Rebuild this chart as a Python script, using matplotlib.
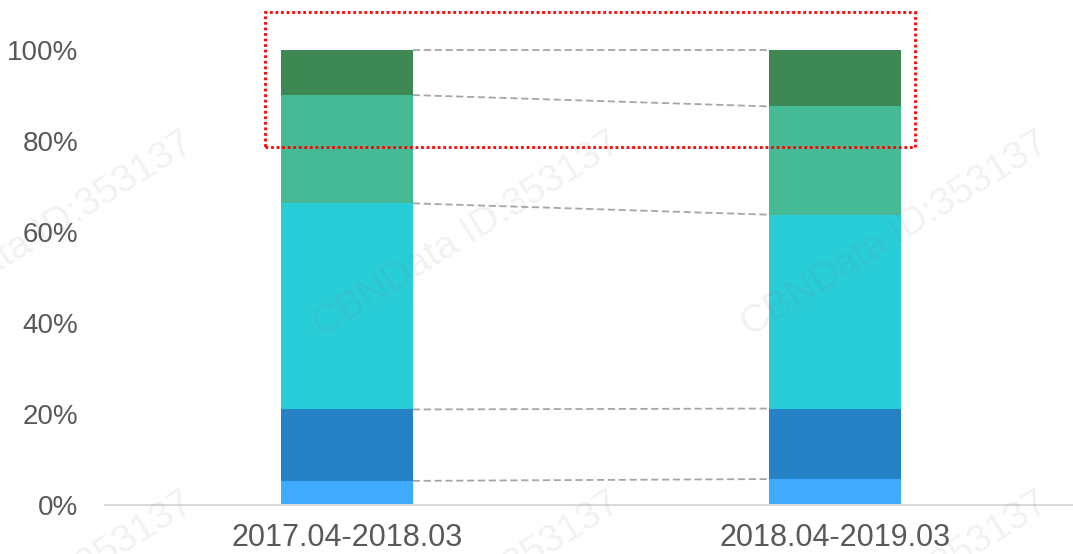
import matplotlib
matplotlib.use("Agg")
import matplotlib.pyplot as plt
from matplotlib.patches import Rectangle
import numpy as np

# share of each segment per period, bottom to top (%)
periods = ["2017.04-2018.03", "2018.04-2019.03"]
seg_a = [5.3, 5.7]
seg_b = [15.7, 15.5]
seg_c = [45.3, 42.6]
seg_d = [23.8, 23.8]
seg_e = [9.9, 12.4]
y_ticks = [0, 20, 40, 60, 80, 100]
seg_colors = ["#3FAAFF", "#2682C6", "#28CDD7", "#45BA95", "#3E8854"]

fig = plt.figure(figsize=(10.73, 5.54), dpi=100)
ax = fig.add_axes([105 / 1073, 49 / 554, 1 - 105 / 1073, 1 - 49 / 554])

x = np.arange(len(periods))
width = 0.27
segs = [seg_a, seg_b, seg_c, seg_d, seg_e]
bottom = np.zeros(len(periods))
tops = []
for vals, col in zip(segs, seg_colors):
    vals = np.array(vals)
    ax.bar(x, vals, width, bottom=bottom, color=col, edgecolor="none", zorder=2)
    bottom = bottom + vals
    tops.append(bottom.copy())

# connector lines between the bars
for t in tops:
    ax.plot([x[0] + width / 2, x[1] - width / 2], [t[0], t[1]], color="#A6A6A6",
            lw=1.3, ls=(0, (4, 2)), zorder=1)

# highlight box
ax.add_patch(Rectangle((-0.168, 78.7), 1.332, 29.7, fill=False, edgecolor="#FF0000",
                       lw=2, ls=(0, (1, 1)), zorder=3, clip_on=False))

ax.set_xlim(-0.496, 1.488)
ax.set_ylim(0, 110.99)
ax.set_yticks(y_ticks)
ax.set_yticklabels([f"{v}%" for v in y_ticks], fontfamily="Liberation Sans", fontsize=20, color="#595959")
ax.set_xticks(x)
ax.set_xticklabels(periods, fontfamily="Liberation Sans", fontsize=22, color="#595959")
ax.tick_params(axis="y", length=0, pad=19)
ax.tick_params(axis="x", length=0, pad=13)
for s in ["top", "right", "left"]:
    ax.spines[s].set_visible(False)
ax.spines["bottom"].set_color("#D9D9D9")
ax.spines["bottom"].set_linewidth(1.5)
ax.patch.set_alpha(0)

# watermark
for cx in [40, 467, 895]:
    for cy in [235, 595]:
        fig.text(cx / 1073, 1 - cy / 554, "CBNData ID:353137", rotation=32, ha="center", va="center",
                 fontfamily="Liberation Sans", fontsize=28, color="#808080", alpha=0.10, zorder=10)

fig.savefig("out.png", dpi=100)
